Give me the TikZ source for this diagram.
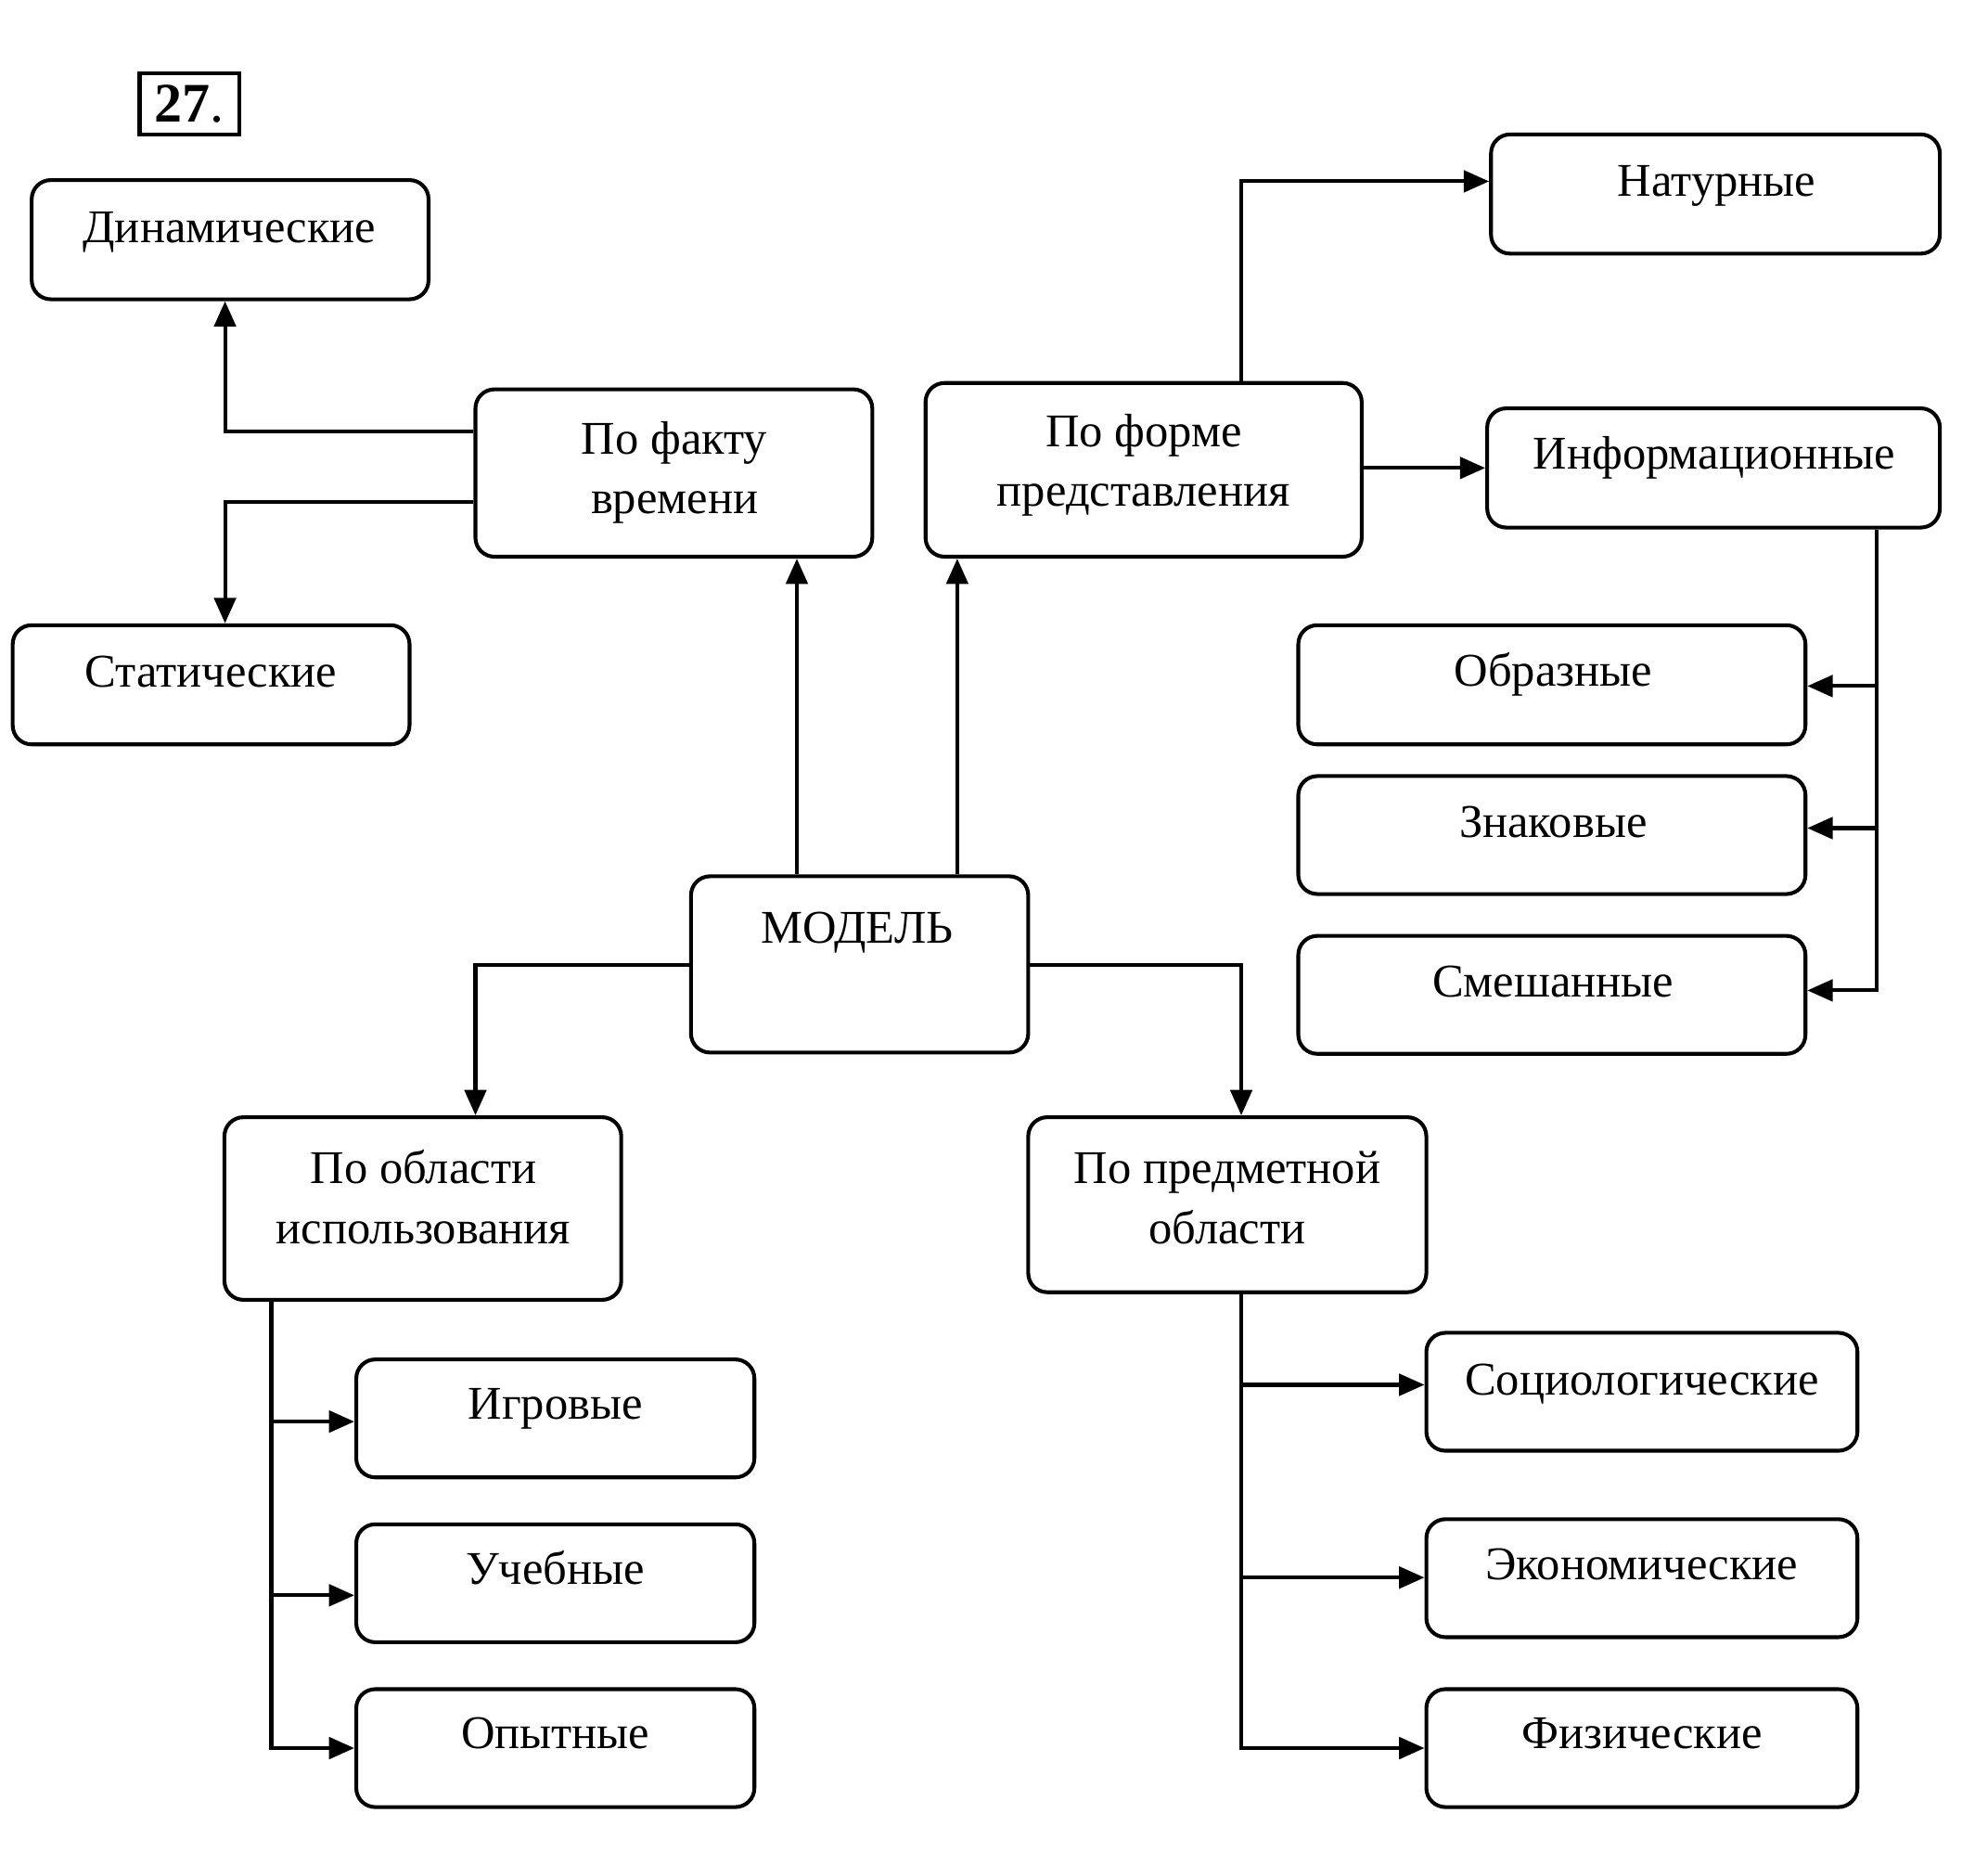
\documentclass[tikz,border=0pt]{standalone}
\usepackage{fontspec}
\setmainfont{Liberation Serif}
\usetikzlibrary{arrows.meta,calc}
\begin{document}
\begin{tikzpicture}[x=1pt,y=-1pt,
  box/.style={draw, line width=3pt, rounded corners=15pt, inner sep=0pt},
  lbl/.style={anchor=base, inner sep=0pt, font=\fontsize{37}{47}\selectfont},
  arr/.style={line width=3pt, -{Triangle[length=20pt,width=17pt]}}
]
\useasboundingbox (0,0) rectangle (1568,1460);
% number
\node[draw, line width=3.2pt, minimum width=79pt, minimum height=48pt, inner sep=0pt,
      font=\fontsize{44}{50}\selectfont] (num) at (149.5,82) {\textbf{27}.};
% boxes
\node[box, minimum width=313pt, minimum height=94pt]  (dyn)   at (181.5,189) {};
\node[box, minimum width=313pt, minimum height=132pt] (fakt)  at (531.5,373) {};
\node[box, minimum width=313pt, minimum height=94pt]  (stat)  at (166.5,540) {};
\node[box, minimum width=344pt, minimum height=137pt] (forma) at (902,370.5) {};
\node[box, minimum width=354pt, minimum height=94pt]  (nat)   at (1353,153) {};
\node[box, minimum width=357pt, minimum height=94pt]  (inf)   at (1351.5,369) {};
\node[box, minimum width=400pt, minimum height=94pt]  (obr)   at (1224,540) {};
\node[box, minimum width=400pt, minimum height=93pt]  (znak)  at (1224,658.5) {};
\node[box, minimum width=400pt, minimum height=93pt]  (smesh) at (1224,784.5) {};
\node[box, minimum width=266pt, minimum height=139pt] (model) at (678,760.5) {};
\node[box, minimum width=313pt, minimum height=144pt] (obl)   at (333.5,953) {};
\node[box, minimum width=314pt, minimum height=138pt] (pred)  at (968,950) {};
\node[box, minimum width=314pt, minimum height=93pt]  (igr)   at (438,1118.5) {};
\node[box, minimum width=314pt, minimum height=93pt]  (ucheb) at (438,1248.5) {};
\node[box, minimum width=314pt, minimum height=93pt]  (opyt)  at (438,1378.5) {};
\node[box, minimum width=340pt, minimum height=93pt]  (soc)   at (1295,1097.5) {};
\node[box, minimum width=340pt, minimum height=93pt]  (eko)   at (1295,1244.5) {};
\node[box, minimum width=340pt, minimum height=93pt]  (fiz)   at (1295,1378.5) {};
% texts
\node[lbl] (t-dyn)   at (181,191)  {Динамические};
\node[lbl] (t-fakt1) at (532,358)  {По факту};
\node[lbl] (t-fakt2) at (532,405)  {времени};
\node[lbl] (t-stat)  at (166.5,542) {Статические};
\node[lbl] (t-form1) at (902,352)  {По форме};
\node[lbl] (t-form2) at (902,399)  {представления};
\node[lbl] (t-nat)   at (1354,155) {Натурные};
\node[lbl] (t-inf)   at (1352,370) {Информационные};
\node[lbl] (t-obr)   at (1225,541) {Образные};
\node[lbl] (t-znak)  at (1225,660) {Знаковые};
\node[lbl] (t-smesh) at (1225,786) {Смешанные};
\node[lbl] (t-model) at (676,744)  {МОДЕЛЬ};
\node[lbl] (t-obl1)  at (334,933)  {По области};
\node[lbl] (t-obl2)  at (334,981)  {использования};
\node[lbl] (t-pred1) at (968,933)  {По предметной};
\node[lbl] (t-pred2) at (968,981)  {области};
\node[lbl] (t-igr)   at (438,1119) {Игровые};
\node[lbl] (t-ucheb) at (438,1249) {Учебные};
\node[lbl] (t-opyt)  at (438,1379) {Опытные};
\node[lbl] (t-soc)   at (1295,1100) {Социологические};
\node[lbl] (t-eko)   at (1295,1246) {Экономические};
\node[lbl] (t-fiz)   at (1295,1379) {Физические};
% branch coordinates
\coordinate (L1) at (177.5,0);
\coordinate (R1) at (1480,0);
\coordinate (L2) at (214,0);
\coordinate (R2) at (979,0);
% connectors
\draw[arr] (fakt.west |- 0,340) -| (L1 |- dyn.south);
\draw[arr] (fakt.west |- 0,396) -| (L1 |- stat.north);
\draw[arr] (model.north -| 628.5,0) -- (fakt.south -| 628.5,0);
\draw[arr] (model.north -| 755,0) -- (forma.south -| 755,0);
\draw[arr] (forma.north -| R2) |- (nat.west |- 0,143);
\draw[arr] (forma.east |- 0,369) -- (inf.west |- 0,369);
\draw[arr] (inf.south -| R1) |- (smesh.east |- 0,781);
\draw[arr] (R1 |- 0,541) -- (obr.east |- 0,541);
\draw[arr] (R1 |- 0,653) -- (znak.east |- 0,653);
\draw[arr] (model.west |- 0,761) -| (obl.north -| 375,0);
\draw[arr] (model.east |- 0,761) -| (pred.north -| R2);
\draw[arr] (obl.south -| L2) |- (opyt.west);
\draw[arr] (L2 |- 0,1121) -- (igr.west |- 0,1121);
\draw[arr] (L2 |- 0,1258) -- (ucheb.west |- 0,1258);
\draw[arr] (pred.south -| R2) |- (fiz.west);
\draw[arr] (R2 |- 0,1092) -- (soc.west |- 0,1092);
\draw[arr] (R2 |- 0,1244) -- (eko.west |- 0,1244);
\end{tikzpicture}
\end{document}
